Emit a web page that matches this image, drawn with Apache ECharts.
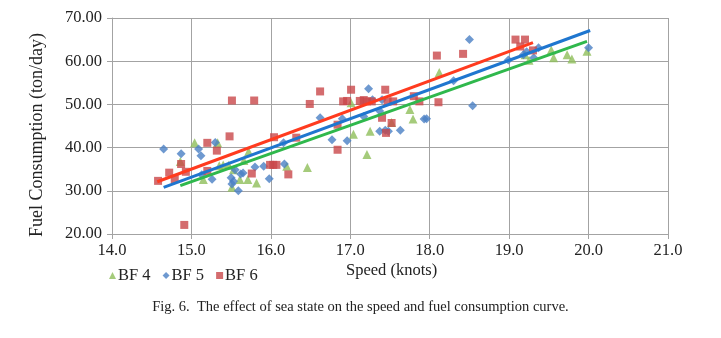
<!DOCTYPE html>
<html>
<head>
<meta charset="utf-8">
<script src="https://cdn.jsdelivr.net/npm/echarts@6/dist/echarts.min.js"></script>
<style>
  html, body { margin: 0; padding: 0; background: #fff; }
  #chart { width: 721px; height: 338px; }
</style>
</head>
<body>
<div id="chart"></div>
<script>
// Measured voyages: [speed (knots), fuel consumption (ton/day)] per Beaufort force
const bf4 = [
  [14.86, 36.8], [15.04, 41.1], [15.15, 32.6], [15.33, 41.1], [15.35, 35.8], [15.40, 36.0],
  [15.47, 35.9], [15.51, 30.8], [15.53, 34.9], [15.61, 32.6], [15.66, 37.0], [15.71, 32.6],
  [15.72, 39.1], [15.82, 31.8], [16.20, 35.7], [16.46, 35.4], [17.01, 50.4], [17.04, 43.1],
  [17.21, 38.4], [17.25, 43.8], [17.52, 45.8], [17.75, 48.8], [17.79, 46.6], [18.12, 57.4],
  [19.20, 61.5], [19.25, 60.2], [19.53, 62.6], [19.56, 60.8], [19.73, 61.5], [19.79, 60.5],
  [19.98, 62.3]
];
const bf5 = [
  [14.65, 39.7], [14.87, 38.6], [15.09, 39.7], [15.12, 38.1], [15.30, 41.2], [15.26, 32.7],
  [15.13, 33.7], [15.50, 33.0], [15.53, 32.2], [15.51, 31.6], [15.55, 34.9], [15.59, 30.0],
  [15.65, 34.1], [15.62, 33.9], [15.80, 35.5], [15.91, 35.7], [15.98, 32.8], [16.16, 41.1],
  [16.17, 36.2], [16.62, 46.9], [16.90, 46.7], [16.77, 41.8], [16.96, 41.6], [17.17, 47.2],
  [17.23, 53.6], [17.28, 51.1], [17.40, 51.1], [17.37, 48.5], [17.37, 43.8], [17.44, 44.0],
  [17.48, 43.8], [17.63, 44.0], [17.93, 46.6], [17.96, 46.7], [18.30, 55.5], [18.50, 65.0],
  [18.54, 49.7], [18.99, 60.3], [19.18, 61.5], [19.22, 62.2], [19.31, 60.8], [19.37, 63.1],
  [20.00, 63.1]
];
const bf6 = [
  [14.58, 32.3], [14.72, 34.2], [14.79, 32.7], [14.87, 36.2], [14.93, 34.4], [14.91, 22.1],
  [15.20, 41.1], [15.32, 39.3], [15.48, 42.6], [15.20, 34.6], [15.76, 34.0], [15.99, 36.0],
  [16.03, 36.0], [16.07, 36.0], [16.04, 42.4], [16.22, 33.8], [16.32, 42.3], [15.51, 50.9],
  [15.79, 50.9], [16.49, 50.1], [16.62, 53.0], [16.84, 45.3], [16.84, 39.5], [16.91, 50.7],
  [16.96, 50.8], [17.01, 53.4], [17.12, 50.8], [17.17, 51.0], [17.21, 50.7], [17.27, 50.7],
  [17.44, 53.4], [17.40, 46.9], [17.47, 50.7], [17.54, 50.7], [17.52, 45.7], [17.45, 43.4],
  [17.80, 51.9], [17.87, 50.7], [18.09, 61.3], [18.42, 61.7], [18.11, 50.5], [19.08, 65.0],
  [19.20, 65.0], [19.30, 62.5], [19.14, 63.4]
];

// Linear trend lines (endpoints of each fitted line)
const trendBf4 = [[14.86, 31.2], [19.98, 64.6]];
const trendBf5 = [[14.65, 30.8], [20.02, 67.1]];
const trendBf6 = [[14.57, 32.1], [19.30, 64.3]];

const xTicks = { min: 14, max: 21, step: 1 };
const yTicks = { min: 20, max: 70, step: 10 };

const serif = '"Liberation Serif", "DejaVu Serif", serif';
const gridColor = '#a3a3a3';

const chart = echarts.init(document.getElementById('chart'), null, { renderer: 'canvas' });

chart.setOption({
  animation: false,
  backgroundColor: '#fff',
  grid: { left: 112, right: 53, top: 18, bottom: 104, containLabel: false },
  xAxis: {
    type: 'value',
    min: xTicks.min, max: xTicks.max, interval: xTicks.step,
    axisLine: { show: true, lineStyle: { color: gridColor, width: 1 } },
    axisTick: { show: true, inside: false, length: 5, lineStyle: { color: gridColor } },
    splitLine: { show: true, lineStyle: { color: gridColor, width: 1 } },
    axisLabel: {
      color: '#222', fontFamily: serif, fontSize: 16.5, margin: 8,
      formatter: v => v.toFixed(1)
    }
  },
  yAxis: {
    type: 'value',
    min: yTicks.min, max: yTicks.max, interval: yTicks.step,
    axisLine: { show: true, lineStyle: { color: gridColor, width: 1 } },
    axisTick: { show: true, inside: false, length: 5, lineStyle: { color: gridColor } },
    splitLine: { show: true, lineStyle: { color: gridColor, width: 1 } },
    axisLabel: {
      color: '#222', fontFamily: serif, fontSize: 16.5, margin: 10,
      formatter: v => v.toFixed(2)
    }
  },
  legend: {
    data: [
      { name: 'BF 4', icon: 'triangle' },
      { name: 'BF 5', icon: 'diamond' },
      { name: 'BF 6', icon: 'rect' }
    ],
    left: 104, top: 262,
    itemWidth: 7, itemHeight: 7, itemGap: 12,
    textStyle: { color: '#222', fontFamily: serif, fontSize: 16.5, padding: [0, 0, 0, -3] }
  },
  graphic: [
    {
      type: 'text', x: 37, y: 135, rotation: Math.PI / 2,
      style: {
        text: 'Fuel Consumption (ton/day)', fill: '#222', font: '18px ' + serif,
        textAlign: 'center', textVerticalAlign: 'middle'
      }
    },
    {
      type: 'text', left: 346, top: 262,
      style: { text: 'Speed (knots)', fill: '#222', font: '16.5px ' + serif }
    },
    {
      type: 'text', left: 'center', top: 300,
      style: {
        text: 'Fig. 6.  The effect of sea state on the speed and fuel consumption curve.',
        fill: '#222', font: '14.5px ' + serif
      }
    }
  ],
  series: [
    {
      name: 'BF 4', type: 'scatter', data: bf4, symbol: 'triangle', symbolSize: 9,
      itemStyle: { color: '#8fbe5a' }, z: 3
    },
    {
      name: 'BF 5', type: 'scatter', data: bf5, symbol: 'diamond', symbolSize: 9,
      itemStyle: { color: '#4a80c4' }, z: 3
    },
    {
      name: 'BF 6', type: 'scatter', data: bf6, symbol: 'rect', symbolSize: 8,
      itemStyle: { color: '#c9474a' }, z: 3
    },
    {
      name: 'trend BF 4', type: 'line', data: trendBf4, symbol: 'none',
      lineStyle: { color: '#2fb84c', width: 3 }, z: 4
    },
    {
      name: 'trend BF 5', type: 'line', data: trendBf5, symbol: 'none',
      lineStyle: { color: '#1f76cf', width: 3 }, z: 4
    },
    {
      name: 'trend BF 6', type: 'line', data: trendBf6, symbol: 'none',
      lineStyle: { color: '#ff3b1f', width: 3 }, z: 4
    }
  ]
});
</script>
</body>
</html>
